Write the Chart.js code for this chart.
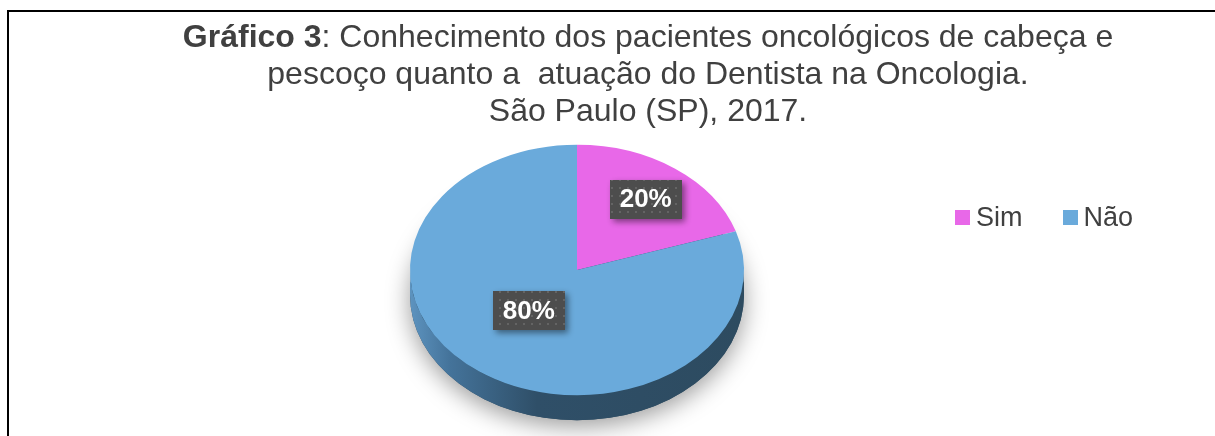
<!DOCTYPE html>
<html>
<head>
<meta charset="utf-8">
<script src="https://cdn.jsdelivr.net/npm/chart.js@4/dist/chart.umd.min.js"></script>
<style>
  body { margin: 0; background: #fff; width: 1215px; height: 436px; overflow: hidden; position: relative; font-family: "Liberation Sans", Arial, sans-serif; }
  #frame { position: absolute; left: 7px; top: 10px; width: 1300px; height: 500px; border-top: 2px solid #000; border-left: 2px solid #000; }
  #title { position: absolute; left: 0; top: 18px; width: 1296px; text-align: center; font-size: 32px; line-height: 37px; color: #404040; white-space: pre; }
  #legend { position: absolute; left: 955px; top: 202px; display: flex; font-size: 27px; color: #404040; }
  #legend .item { display: flex; align-items: center; margin-right: 40px; }
  #legend .box { width: 15px; height: 15px; margin-right: 6px; }
  canvas { position: absolute; left: 0; top: 0; }
</style>
</head>
<body>
<div id="frame"></div>
<canvas id="pieCanvas" width="1215" height="436"></canvas>
<div id="title"><b>Gráfico 3</b>: Conhecimento dos pacientes oncológicos de cabeça e
pescoço quanto a  atuação do Dentista na Oncologia.
São Paulo (SP), 2017.</div>
<div id="legend"></div>
<script>
const categories = ["Sim", "Não"];
const percentages = [20, 80];
const sliceColors = ["#e868e8", "#6aaadb"];

// fake 3d: squash the pie and draw a side wall under it
const TILT = 0.75;
const CENTER_Y = 270;
const DEPTH = 25;
const LABEL_POS = [0.7, 0.45];

function dotPattern(ctx) {
  const c = document.createElement("canvas");
  c.width = 8; c.height = 8;
  const p = c.getContext("2d");
  p.fillStyle = "#4d4d4d";
  p.fillRect(0, 0, 8, 8);
  p.fillStyle = "#646464";
  p.fillRect(3, 3, 2, 2);
  return ctx.createPattern(c, "repeat");
}

const pie3d = {
  id: "pie3d",
  beforeDatasetsDraw(chart) {
    const ctx = chart.ctx;
    const arcs = chart.getDatasetMeta(0).data;
    const cx = arcs[0].x, r = arcs[0].outerRadius;
    const ry = r * TILT;

    ctx.save();
    // soft shadow under the whole disc
    ctx.save();
    ctx.shadowColor = "rgba(0,0,0,0.4)";
    ctx.shadowBlur = 24;
    ctx.shadowOffsetY = 6;
    ctx.beginPath();
    ctx.ellipse(cx, CENTER_Y + DEPTH, r, ry, 0, 0, 2 * Math.PI);
    ctx.fillStyle = "#2d4b60";
    ctx.fill();
    ctx.restore();

    // side wall (front half only)
    const grad = ctx.createLinearGradient(cx - r, 0, cx + r, 0);
    grad.addColorStop(0, "#5d93bf");
    grad.addColorStop(0.12, "#44739a");
    grad.addColorStop(0.38, "#2f4f68");
    grad.addColorStop(1, "#2d4b60");
    arcs.forEach((arc) => {
      [-2 * Math.PI, 0, 2 * Math.PI].forEach((k) => {
        const lo = Math.max(arc.startAngle + k, 0);
        const hi = Math.min(arc.endAngle + k, Math.PI);
        if (hi <= lo) return;
        ctx.beginPath();
        ctx.ellipse(cx, CENTER_Y, r, ry, 0, lo, hi, false);
        ctx.lineTo(cx + r * Math.cos(hi), CENTER_Y + DEPTH + ry * Math.sin(hi));
        ctx.ellipse(cx, CENTER_Y + DEPTH, r, ry, 0, hi, lo, true);
        ctx.closePath();
        ctx.fillStyle = grad;
        ctx.fill();
      });
    });

    ctx.translate(0, CENTER_Y);
    ctx.scale(1, TILT);
    ctx.translate(0, -arcs[0].y);
  },
  afterDatasetsDraw(chart) {
    const ctx = chart.ctx;
    ctx.restore();
    const arcs = chart.getDatasetMeta(0).data;
    const values = chart.data.datasets[0].data;
    const total = values.reduce((a, b) => a + b, 0);
    const pattern = dotPattern(ctx);
    ctx.save();
    ctx.font = "bold 26px 'Liberation Sans', Arial, sans-serif";
    ctx.textAlign = "center";
    ctx.textBaseline = "middle";
    arcs.forEach((arc, i) => {
      const mid = (arc.startAngle + arc.endAngle) / 2;
      const f = LABEL_POS[i];
      const x = arc.x + arc.outerRadius * f * Math.cos(mid) - (i === 1 ? 4 : 0);
      const y = CENTER_Y + arc.outerRadius * TILT * f * Math.sin(mid) - (i === 1 ? 5 : 0);
      const text = Math.round(values[i] / total * 100) + "%";
      const w = ctx.measureText(text).width + 20, h = 39;
      ctx.save();
      ctx.shadowColor = "rgba(0,0,0,0.45)";
      ctx.shadowBlur = 6;
      ctx.shadowOffsetX = 3;
      ctx.shadowOffsetY = 3;
      ctx.fillStyle = pattern;
      ctx.fillRect(Math.round(x - w / 2), Math.round(y - h / 2), Math.round(w), h);
      ctx.restore();
      ctx.fillStyle = "#fff";
      ctx.fillText(text, x, y + 1);
    });
    ctx.restore();
  }
};

const chart = new Chart(document.getElementById("pieCanvas"), {
  type: "pie",
  data: {
    labels: categories,
    datasets: [{
      data: percentages,
      backgroundColor: sliceColors,
      borderWidth: 0,
      clip: false
    }]
  },
  options: {
    responsive: false,
    animation: false,
    events: [],
    layout: { padding: { left: 410, right: 471, top: 10, bottom: 92 } },
    plugins: {
      legend: { display: false },
      tooltip: { enabled: false }
    }
  },
  plugins: [pie3d]
});

const legendBox = document.getElementById("legend");
Chart.overrides.pie.plugins.legend.labels.generateLabels(chart).forEach((item) => {
  const el = document.createElement("div");
  el.className = "item";
  el.innerHTML = '<span class="box" style="background:' + item.fillStyle + '"></span>' + item.text;
  legendBox.appendChild(el);
});
</script>
</body>
</html>
